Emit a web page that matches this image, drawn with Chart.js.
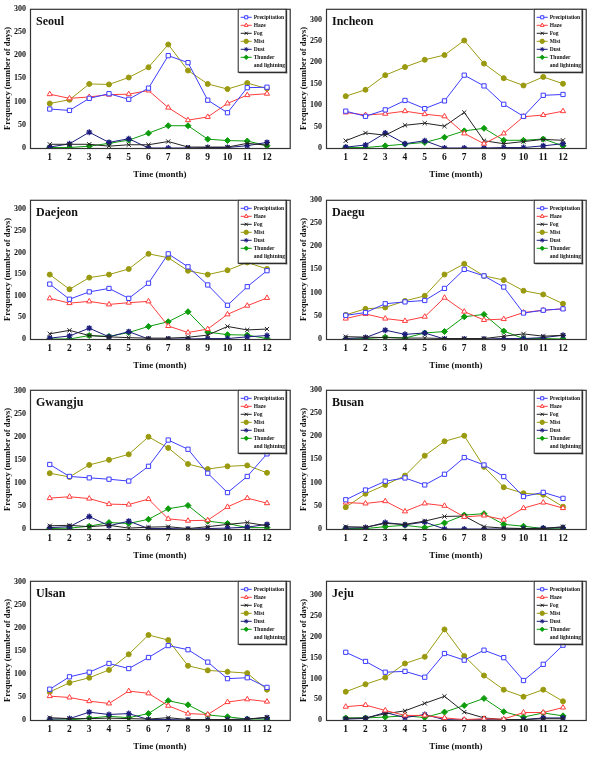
<!DOCTYPE html>
<html>
<head>
<meta charset="utf-8">
<script src="https://cdn.jsdelivr.net/npm/chart.js@4.4.1/dist/chart.umd.min.js"></script>
<style>
  html, body { margin: 0; padding: 0; background: #fff; }
  #wrap { position: relative; width: 591px; height: 757px; }
  #wrap canvas { position: absolute; }
</style>
</head>
<body>
<div id="wrap"></div>
<script>
// データ
const months = [1, 2, 3, 4, 5, 6, 7, 8, 9, 10, 11, 12];
const seriesNames = ['Precipitation', 'Haze', 'Fog', 'Mist', 'Dust', 'Thunder and lightning'];
const cities = ['Seoul', 'Incheon', 'Daejeon', 'Daegu', 'Gwangju', 'Busan', 'Ulsan', 'Jeju'];
const yMax = [300, 325, 322, 300, 302, 300, 303, 335];
const yTicks = [0, 50, 100, 150, 200, 250, 300];

// 各都市: [降水, 煙霧, 霧, 靄, 黄砂, 雷]
const seoul = [
    [84, 81, 107, 117, 105, 129, 199, 184, 103, 76, 130, 131],
    [116, 107, 110, 115, 116, 124, 87, 60, 67, 96, 114, 117],
    [8, 8, 8, 4, 7, 7, 14, 2, 2, 2, 10, 6],
    [96, 104, 138, 137, 152, 174, 223, 167, 138, 127, 140, 128],
    [2, 9, 34, 12, 20, 0, 0, 0, 1, 1, 5, 12],
    [1, 1, 4, 10, 17, 32, 48, 48, 19, 16, 15, 5]
];
const incheon = [
    [86, 74, 89, 111, 92, 110, 170, 145, 102, 74, 123, 125],
    [83, 77, 80, 86, 79, 74, 34, 10, 34, 73, 77, 86],
    [17, 35, 30, 53, 58, 51, 83, 17, 10, 15, 20, 18],
    [121, 136, 170, 189, 206, 217, 251, 197, 163, 146, 166, 150],
    [2, 7, 35, 10, 17, 0, 0, 0, 1, 1, 5, 10],
    [1, 1, 5, 9, 13, 25, 40, 46, 18, 18, 21, 5]
];
const daejeon = [
    [127, 92, 109, 117, 94, 129, 197, 167, 125, 78, 121, 158],
    [94, 83, 87, 80, 84, 87, 30, 15, 23, 57, 77, 95],
    [12, 20, 8, 5, 3, 2, 2, 4, 9, 29, 21, 23],
    [149, 115, 142, 149, 162, 197, 188, 158, 149, 159, 177, 162],
    [2, 7, 25, 5, 17, 0, 0, 0, 1, 1, 5, 8],
    [0, 0, 8, 6, 15, 29, 40, 63, 16, 10, 9, 1]
];
const daegu = [
    [51, 57, 76, 80, 83, 109, 150, 136, 112, 56, 62, 65],
    [44, 54, 44, 39, 48, 89, 59, 41, 43, 57, 62, 65],
    [5, 4, 3, 2, 2, 1, 1, 1, 6, 11, 6, 8],
    [52, 65, 68, 82, 93, 139, 162, 136, 127, 104, 96, 76],
    [1, 3, 19, 10, 13, 0, 0, 0, 1, 1, 3, 8],
    [0, 1, 4, 2, 13, 16, 48, 53, 17, 1, 1, 0]
];
const gwangju = [
    [140, 114, 111, 108, 104, 136, 193, 173, 121, 79, 114, 163],
    [67, 70, 66, 54, 53, 65, 22, 18, 19, 48, 67, 56],
    [7, 8, 5, 8, 2, 4, 5, 1, 5, 10, 14, 7],
    [121, 113, 139, 150, 162, 200, 176, 141, 130, 136, 138, 122],
    [3, 5, 27, 7, 17, 1, 1, 0, 1, 2, 4, 10],
    [1, 2, 6, 14, 12, 21, 44, 51, 17, 12, 3, 3]
];
const busan = [
    [63, 84, 103, 110, 95, 118, 154, 138, 113, 70, 79, 66],
    [57, 55, 60, 38, 55, 50, 26, 29, 20, 45, 57, 45],
    [5, 4, 12, 10, 17, 27, 28, 5, 2, 1, 1, 5],
    [47, 76, 95, 115, 158, 189, 201, 134, 90, 77, 74, 48],
    [2, 3, 14, 9, 15, 0, 0, 0, 0, 1, 2, 3],
    [1, 1, 5, 8, 3, 13, 30, 33, 10, 6, 1, 2]
];
const ulsan = [
    [67, 94, 104, 123, 112, 136, 162, 153, 126, 90, 92, 71],
    [52, 49, 41, 36, 63, 58, 31, 14, 12, 39, 45, 40],
    [5, 3, 3, 4, 3, 2, 5, 1, 1, 1, 2, 6],
    [61, 81, 92, 109, 143, 185, 174, 118, 108, 105, 102, 66],
    [2, 3, 17, 12, 14, 1, 1, 0, 0, 1, 2, 5],
    [0, 0, 4, 8, 5, 14, 42, 33, 11, 7, 2, 2]
];
const jeju = [
    [163, 141, 115, 117, 103, 160, 144, 168, 150, 95, 134, 180],
    [32, 36, 23, 11, 11, 5, 1, 3, 2, 18, 18, 30],
    [4, 5, 15, 22, 40, 57, 19, 5, 1, 1, 3, 3],
    [68, 86, 102, 136, 152, 218, 154, 107, 73, 56, 73, 45],
    [2, 4, 18, 6, 13, 1, 0, 1, 0, 1, 5, 5],
    [5, 5, 7, 10, 6, 19, 35, 52, 20, 7, 17, 10]
];
const cityData = [seoul, incheon, daejeon, daegu, gwangju, busan, ulsan, jeju];

// 系列ごとのスタイル
const seriesStyles = [
    { color: '#3c3cff', pointStyle: 'rect', fill: '#ffffff', radius: 3, borderWidth: 1 },
    { color: '#ff3c3c', pointStyle: 'triangle', fill: '#ffffff', radius: 3, borderWidth: 1 },
    { color: '#222222', pointStyle: 'crossRot', fill: '#222222', radius: 3, borderWidth: 1 },
    { color: '#9a9a10', pointStyle: 'circle', fill: '#9a9a10', radius: 2.5, borderWidth: 1 },
    { color: '#1c1c7c', pointStyle: 'star', fill: '#1c1c7c', radius: 3, borderWidth: 1.3 },
    { color: '#0c9c0c', pointStyle: 'rectRot', fill: '#0c9c0c', radius: 3, borderWidth: 1 }
];

const serif = "'Liberation Serif', 'Times New Roman', serif";

// 枠・都市名・凡例を描くプラグイン
const panelDecor = {
    id: 'panelDecor',
    afterDraw(chart) {
        const { ctx, chartArea } = chart;
        const { left, top, right, bottom } = chartArea;
        ctx.save();
        // 枠
        ctx.strokeStyle = '#333';
        ctx.lineWidth = 1.2;
        ctx.strokeRect(left + 0.5, top + 0.5, right - left, bottom - top);

        // 都市名
        ctx.fillStyle = '#111';
        ctx.font = 'bold 12px ' + serif;
        ctx.textBaseline = 'middle';
        ctx.textAlign = 'left';
        ctx.fillText(chart.options.plugins.cityName, left + 6, top + 13);

        // 凡例
        const bx = right - 52, by = top, bw = 48, bh = 63;
        ctx.fillStyle = '#fff';
        ctx.fillRect(bx, by, bw, bh);
        ctx.fillStyle = '#555';
        ctx.fillRect(bx + 1.5, by + bh, bw, 1.5);
        ctx.fillRect(bx + bw, by + 1.5, 1.5, bh);
        ctx.strokeStyle = '#222';
        ctx.lineWidth = 1;
        ctx.strokeRect(bx + 0.5, by + 0.5, bw, bh);

        ctx.font = 'bold 5.5px ' + serif;
        chart.data.datasets.forEach((ds, i) => {
            const st = seriesStyles[i];
            const y = by + 8.5 + i * 8;
            const x0 = bx + 3;
            ctx.strokeStyle = st.color;
            ctx.lineWidth = 1;
            ctx.beginPath();
            ctx.moveTo(x0, y);
            ctx.lineTo(x0 + 11, y);
            ctx.stroke();
            ctx.fillStyle = st.fill;
            Chart.helpers.drawPoint(ctx, {
                pointStyle: st.pointStyle,
                radius: 2.2,
                borderWidth: 1,
                rotation: 0
            }, x0 + 5.5, y);
            ctx.fillStyle = '#111';
            if (i === 5) {
                ctx.fillText('Thunder', x0 + 13, y);
                ctx.fillText('and lightning', x0 + 13, y + 8);
            } else {
                ctx.fillText(ds.label, x0 + 13, y);
            }
        });
        ctx.restore();
    }
};

const wrap = document.getElementById('wrap');
const rowTops = [0, 191, 381, 572];

cities.forEach((city, idx) => {
    const canvas = document.createElement('canvas');
    canvas.width = 295;
    canvas.height = 190;
    canvas.style.left = (idx % 2 === 0 ? 0 : 296) + 'px';
    canvas.style.top = rowTops[Math.floor(idx / 2)] + 'px';
    wrap.appendChild(canvas);

    const rows = cityData[idx];
    const datasets = rows.map((vals, i) => {
        const st = seriesStyles[i];
        return {
            label: seriesNames[i],
            data: months.map((m, j) => ({ x: m, y: vals[j] })),
            borderColor: st.color,
            backgroundColor: st.fill,
            pointBorderColor: st.color,
            pointBackgroundColor: st.fill,
            pointStyle: st.pointStyle,
            pointRadius: st.radius,
            pointBorderWidth: st.borderWidth,
            borderWidth: 1,
            tension: 0
        };
    });

    new Chart(canvas.getContext('2d'), {
        type: 'line',
        data: { datasets },
        options: {
            responsive: false,
            animation: false,
            devicePixelRatio: 1,
            layout: { padding: { top: 5, right: 2, bottom: 6, left: 0 } },
            plugins: {
                legend: { display: false },
                tooltip: { enabled: false },
                cityName: city
            },
            scales: {
                x: {
                    type: 'linear',
                    min: 0,
                    max: 13.15,
                    grid: { display: false, drawTicks: false },
                    border: { display: false },
                    ticks: {
                        stepSize: 1,
                        padding: 4,
                        color: '#111',
                        font: { family: serif, size: 9.5, weight: 'bold' }
                    },
                    afterBuildTicks: (s) => { s.ticks = months.map(m => ({ value: m })); },
                    afterFit: (s) => { s.height = 36; },
                    title: {
                        display: true,
                        text: 'Time (month)',
                        color: '#111',
                        font: { family: serif, size: 9, weight: 'bold' }
                    }
                },
                y: {
                    min: 0,
                    max: yMax[idx],
                    grid: { display: false, drawTicks: false },
                    border: { display: false },
                    ticks: {
                        stepSize: 50,
                        padding: 4,
                        color: '#111',
                        font: { family: serif, size: 8, weight: 'bold' }
                    },
                    afterBuildTicks: (s) => { s.ticks = yTicks.map(v => ({ value: v })); },
                    afterFit: (s) => { s.width = 30; },
                    title: {
                        display: true,
                        text: 'Frequency (number of days)',
                        color: '#111',
                        padding: { top: 3, bottom: 0 },
                        font: { family: serif, size: 8.5, weight: 'bold' }
                    }
                }
            }
        },
        plugins: [panelDecor]
    });
});
</script>
</body>
</html>
